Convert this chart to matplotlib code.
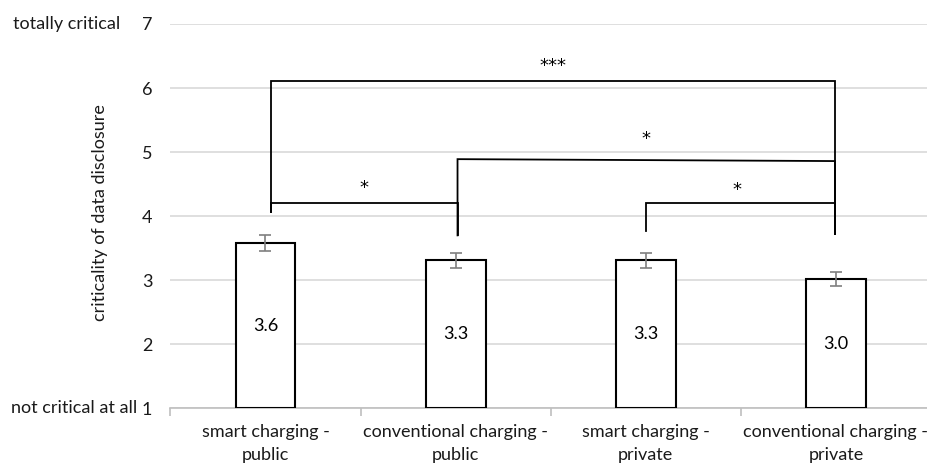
import matplotlib
matplotlib.use("Agg")
import matplotlib.pyplot as plt
import numpy as np

plt.rcParams['font.family'] = ['Lato', 'DejaVu Sans']

categories = ["smart charging -\npublic", "conventional charging -\npublic",
              "smart charging -\nprivate", "conventional charging -\nprivate"]
means = [3.58, 3.31, 3.31, 3.02]
value_labels = ["3.6", "3.3", "3.3", "3.0"]
errors = [0.125, 0.12, 0.12, 0.11]

# significance brackets: (left x, right x, left y, right y, left foot, right foot, label)
brackets = [
    (0.03, 2.995, 6.11, 6.11, 4.07, 3.72, "***"),
    (1.01, 2.995, 4.89, 4.86, 3.70, 3.72, "*"),
    (0.03, 1.01, 4.21, 4.21, 4.07, 3.70, "*"),
    (2.0, 2.995, 4.20, 4.20, 3.77, 3.72, "*"),
]
star_pos = [(1.51, 6.34), (2.0, 5.20), (0.52, 4.44), (2.48, 4.41)]

fig = plt.figure(figsize=(9.28, 4.66), dpi=100)
ax = fig.add_axes([170.4 / 928, 0.1238, (931 - 170.4) / 928, 0.9485 - 0.1238])

x = np.arange(len(categories))
ax.bar(x, np.array(means) - 1, bottom=1, width=0.315, color='white',
       edgecolor='black', linewidth=1.5, zorder=3)
ax.errorbar(x, means, yerr=errors, fmt='none', ecolor='#7f7f7f',
            elinewidth=1.2, capsize=4, capthick=1.2, zorder=4)
for xi, m, lab in zip(x, means, value_labels):
    ax.text(xi, (1 + m) / 2, lab, ha='center', va='center', fontsize=13,
            color='black', zorder=5)

for xl, xr, yl, yr, fl, fr, lab in brackets:
    ax.plot([xl, xl, xr, xr], [fl, yl, yr, fr], color='black', lw=1.3,
            zorder=5, solid_joinstyle='miter')
for (sx, sy), (_, _, _, _, _, _, lab) in zip(star_pos, brackets):
    ax.text(sx, sy, lab, ha='center', va='center', fontsize=13,
            family='DejaVu Sans', color='black')

ax.set_xlim(-0.5, 3.5)
ax.set_ylim(1, 7)
ax.set_yticks(range(1, 8))
ax.yaxis.grid(True, color='#d9d9d9', linewidth=1.2, zorder=0)
ax.set_axisbelow(True)
for s in ['top', 'right', 'left']:
    ax.spines[s].set_visible(False)
ax.spines['bottom'].set_color('#bfbfbf')
ax.spines['bottom'].set_linewidth(1.2)
ax.tick_params(axis='y', length=0, pad=13, labelsize=13, labelcolor='#1a1a1a')

ax.set_xticks(np.arange(-0.5, 4.0, 1.0))
ax.set_xticklabels([])
ax.tick_params(axis='x', which='major', length=6, color='#bfbfbf', width=1.2)
ax.set_xticks(x, minor=True)
ax.set_xticklabels(categories, minor=True, fontsize=13, color='#1a1a1a',
                   linespacing=1.55)
ax.tick_params(axis='x', which='minor', length=0, pad=11)

ax.set_ylabel("criticality of data disclosure", fontsize=13, color='#1a1a1a')
ax.yaxis.set_label_coords(-0.082, 0.51)

ax.text(-0.066, 7, "totally critical", transform=ax.get_yaxis_transform(),
        ha='right', va='center', fontsize=13, color='#1a1a1a')
ax.text(-0.043, 1, "not critical at all", transform=ax.get_yaxis_transform(),
        ha='right', va='center', fontsize=13, color='#1a1a1a')

fig.savefig("out.png", dpi=100)
